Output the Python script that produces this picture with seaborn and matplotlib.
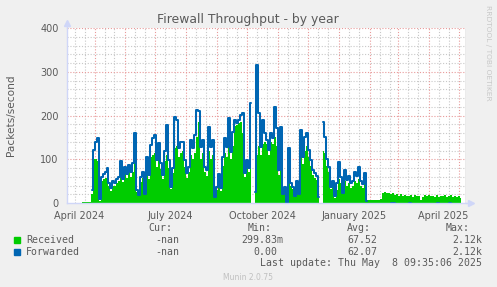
import numpy as np
import pandas as pd
import seaborn as sns
import matplotlib.pyplot as plt
from matplotlib.patches import Rectangle

nan = np.nan

# samples every 2 days starting 2024-04-18
start = "2024-04-18"
received = [
    2, 2, 2, 2, 2, 20, 100, 100, 95, 5,
    50, 55, 58, 62, 38, 28, 40, 38, 45, 50,
    70, 48, 66, 58, 70, 60, 72, 95, 25, 15,
    48, 58, 18, 85, 55, 105, 110, 115, 82, 105,
    78, 54, 95, 110, 80, 32, 68, 125, 130, 105,
    115, 120, 82, 58, 70, 110, 100, 115, 150, 185,
    100, 115, 70, 62, 120, 100, 110, 12, 30, 55,
    28, 85, 115, 105, 140, 100, 130, 175, 178, 182,
    185, 160, 60, 85, 70, 150, nan, 22, 110, 130,
    110, 135, 140, 135, 110, 140, 135, 150, 130, 65,
    115, 18, 30, 0, 80, 40, 32, 14, 42, 18,
    115, 90, 120, 130, 105, 85, 65, 58, 52, 12,
    nan, 120, 115, 85, 70, 32, 42, 12, 30, 55,
    45, 20, 50, 40, 45, 35, 40, 50, 45, 55,
    40, 35, 45, 8, 7, 7, 8, 7, 8, 7,
    10, 24, 25, 22, 23, 20, 22, 18, 20, 17,
    20, 16, 18, 15, 17, 19, 14, 18, 15, 17,
    8, 14, 18, 16, 19, 15, 17, 14, 18, 13,
    17, 15, 19, 14, 16, 18, 13, 16, 14, 15,
    12,
]
forwarded = [
    nan, nan, nan, nan, nan, 30, 121, 140, 149, 10,
    60, 66, 72, 80, 45, 34, 50, 45, 55, 60,
    95, 55, 82, 66, 87, 70, 91, 160, 30, 18,
    60, 71, 21, 105, 65, 133, 149, 155, 98, 137,
    91, 64, 120, 178, 98, 37, 80, 197, 190, 126,
    139, 139, 98, 69, 82, 144, 126, 155, 213, 210,
    128, 144, 82, 75, 174, 128, 144, 14, 37, 66,
    34, 105, 149, 128, 194, 117, 162, 189, 183, 189,
    201, 206, 69, 98, 80, 229, nan, 25, 315, 206,
    128, 190, 160, 144, 121, 160, 149, 219, 171, 75,
    174, 21, 37, 0, 126, 46, 37, 16, 50, 21,
    167, 105, 151, 160, 121, 98, 75, 69, 62, 14,
    nan, 185, 151, 100, 82, 37, 50, 15, 45, 94,
    60, 24, 75, 53, 62, 45, 50, 70, 62, 82,
    50, 43, 69, 5, nan, nan, nan, nan, nan, nan,
    nan, nan, nan, nan, nan, 0, 0, 0, nan, nan,
    nan, nan, nan, nan, 0, 0, nan, nan, nan, nan,
    nan, nan, nan, nan, nan, nan, nan, nan, 0, 0,
    nan, nan, nan, nan, 0, 0, nan, nan, nan, nan,
    nan,
]

y_ticks = [0, 100, 200, 300, 400]
x_labels = ["April 2024", "July 2024", "October 2024", "January 2025", "April 2025"]
x_label_dates = ["2024-04-16", "2024-07-16", "2024-10-16", "2025-01-16", "2025-04-16"]
headers = ["Cur:", "Min:", "Avg:", "Max:"]
rec_stats = ["-nan", "299.83m", "67.52", "2.12k"]
fwd_stats = ["-nan", "0.00", "62.07", "2.12k"]

t_end = pd.Timestamp("2025-05-08 09:35")
t_start = t_end - pd.Timedelta(days=400)

W, H = 497, 287
GREEN, BLUE = "#00CC00", "#0066B3"
FONT = "#5a5a5a"
RED_GRID, GRAY_GRID = "#e89a9a", "#c8c8c8"

sns.set_theme(style="white")
plt.rcParams["font.family"] = ["DejaVu Sans"]

fig = plt.figure(figsize=(W / 100, H / 100), dpi=100, facecolor="#F0F0F0")
ax = fig.add_axes([67 / W, 1 - 203 / H, (466 - 67) / W, (203 - 28) / H])
ax.set_facecolor("white")

df = pd.DataFrame({
    "date": pd.date_range(start, periods=len(received), freq="2D"),
    "received": received,
    "forwarded": forwarded,
})
df["seg"] = df["forwarded"].isna().cumsum()

# grid under the data
months = pd.date_range("2024-04-01", "2025-06-01", freq="MS")
minor = [m + pd.Timedelta(days=k) for m in months for k in (10, 20)]
dots = (0, (1, 1.6))
for d in minor:
    if t_start < d < t_end:
        ax.axvline(d, color=GRAY_GRID, lw=0.8, ls=dots, zorder=0)
for v in range(20, 401, 20):
    red = v % 100 == 0
    ax.axhline(v, color=RED_GRID if red else GRAY_GRID, lw=0.8, ls=dots,
               zorder=0.5 if red else 0)
major = [m for m in months if t_start < m < t_end]
for d in major:
    ax.axvline(d, color=RED_GRID, lw=0.8, ls=dots, zorder=0.5)

ax.fill_between(df["date"], 0, df["received"], color=GREEN, lw=0, step="mid", zorder=2)
sns.lineplot(data=df.dropna(subset=["forwarded"]), x="date", y="forwarded",
             units="seg", estimator=None, color=BLUE, lw=1.45, drawstyle="steps-mid",
             ax=ax, zorder=3)

ax.axvline(t_end, color="#999999", lw=1, zorder=4)

ax.set_xlim(t_start, t_end)
ax.set_ylim(0, 400)
ax.set_xlabel("")
ax.set_ylabel("")
ax.set_yticks(y_ticks)
ax.set_xticks(major)
ax.set_xticklabels([])
ax.tick_params(axis="both", which="major", length=3, width=0.7, color=RED_GRID,
               labelsize=7, labelcolor=FONT, pad=3)
for s in ["top", "right"]:
    ax.spines[s].set_visible(False)
for s in ["left", "bottom"]:
    ax.spines[s].set_color("#CFD6F8")
    ax.spines[s].set_linewidth(1)
    ax.spines[s].set_zorder(5)

# axis arrows
ax.plot([0], [1.03], marker="^", ms=4, color="#CFD6F8", transform=ax.transAxes, clip_on=False)
ax.plot([0, 0], [1, 1.03], color="#CFD6F8", lw=1, transform=ax.transAxes, clip_on=False)
ax.plot([1.012], [0], marker=">", ms=4, color="#CFD6F8", transform=ax.transAxes, clip_on=False)
ax.plot([1, 1.012], [0, 0], color="#CFD6F8", lw=1, transform=ax.transAxes, clip_on=False)

for lab, d in zip(x_labels, x_label_dates):
    ax.text(pd.Timestamp(d), -0.045, lab, transform=ax.get_xaxis_transform(),
            ha="center", va="top", fontsize=7, color=FONT)

fig.text(248 / W, 1 - 19 / H, "Firewall Throughput - by year", ha="center", va="center",
         fontsize=8.9, color=FONT)
fig.text(11 / W, 1 - 115 / H, "Packets/second", rotation=90, ha="center", va="center",
         fontsize=7.6, color=FONT)
fig.text(488 / W, 1 - 5 / H, "RRDTOOL / TOBI OETIKER", rotation=-90, ha="center", va="top",
         fontsize=5.4, color="#c8c8c8")

mono = dict(family="DejaVu Sans Mono", fontsize=7.1, color=FONT, va="center")
hdr_x = [172, 272, 371, 470]
val_x = [179, 283, 377, 482]
for h, x in zip(headers, hdr_x):
    fig.text(x / W, 1 - 228 / H, h, ha="right", **mono)
for row_y, name, color, stats in [(240, "Received", GREEN, rec_stats),
                                  (252, "Forwarded", BLUE, fwd_stats)]:
    fig.patches.append(Rectangle((14 / W, 1 - (row_y + 3) / H), 6 / W, 6 / H,
                                 transform=fig.transFigure, color=color))
    fig.text(26 / W, 1 - row_y / H, name, ha="left", **mono)
    for s, x in zip(stats, val_x):
        if s == "0.00":
            x -= 6
        fig.text(x / W, 1 - row_y / H, s, ha="right", **mono)
fig.text(482 / W, 1 - 263 / H, "Last update: Thu May  8 09:35:06 2025", ha="right", **mono)
fig.text(248 / W, 1 - 277 / H, "Munin 2.0.75", ha="center", va="center", fontsize=5.5,
         color="#c0c0c0")

fig.savefig("out.png", dpi=100, facecolor=fig.get_facecolor())
